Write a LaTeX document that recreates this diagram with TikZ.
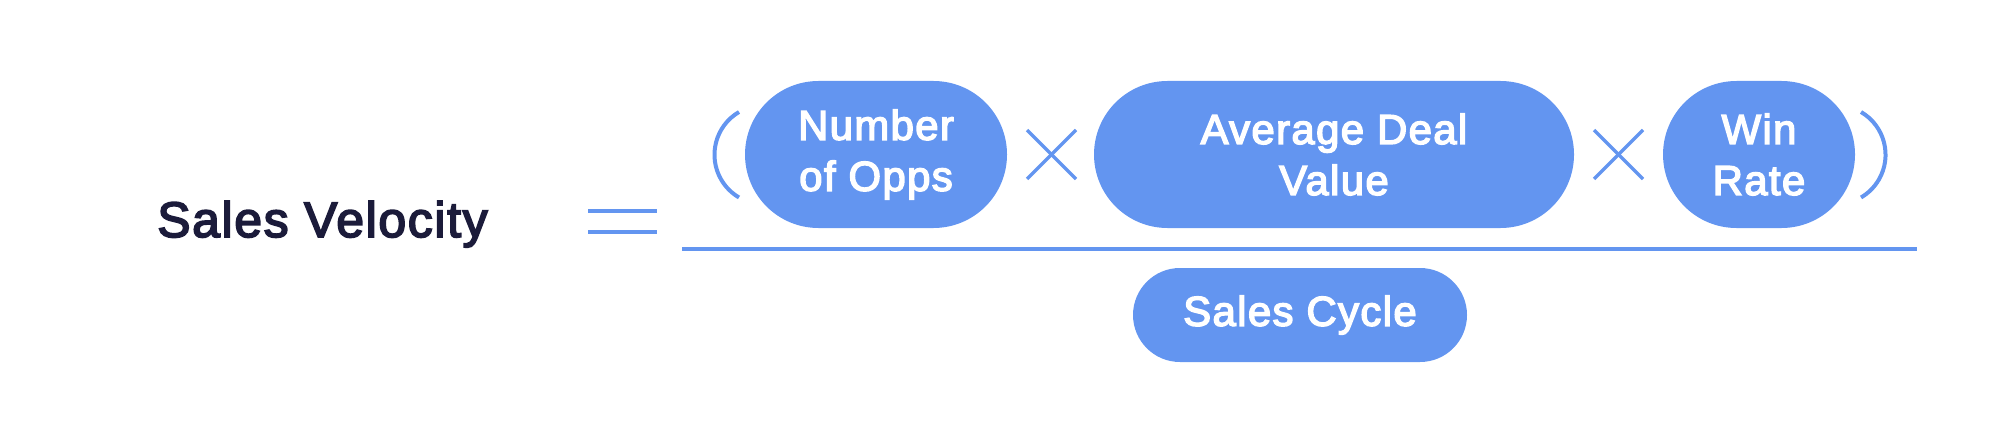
\documentclass[tikz,border=0pt]{standalone}
\usepackage{fontspec}
\setmainfont{Liberation Sans}
\newfontfamily\medfont{Liberation Sans}[FakeBold=3.5, LetterSpace=3.4]
\definecolor{pillblue}{RGB}{99,149,240}
\definecolor{navy}{RGB}{27,27,58}
\begin{document}
\begin{tikzpicture}[x=0.5pt,y=-0.5pt,
  pill/.style={fill=pillblue, text=white, rounded corners=36.75pt, minimum height=73.5pt,
    inner sep=0pt, align=center, font=\medfont\fontsize{20.9}{25.5}\selectfont},
  bluestroke/.style={draw=pillblue, line width=2pt},
  timesstroke/.style={draw=pillblue, line width=1.7pt},
  parenstroke/.style={draw=pillblue, line width=2pt}]
\useasboundingbox (0,0) rectangle (2000,444);
% left-hand side
\node[anchor=base, text=navy, inner sep=0pt, font=\medfont\fontsize{24.9}{30}\selectfont] (sv) at (322.5,237) {Sales Velocity};
% equals sign
\coordinate (eqa) at (588,210.5);
\coordinate (eqb) at (657,210.5);
\coordinate (eqc) at (588,232);
\coordinate (eqd) at (657,232);
\draw[bluestroke] (eqa) -- (eqb);
\draw[bluestroke] (eqc) -- (eqd);
% numerator pills
\node[pill, minimum width=131pt] (opps) at (876,154.5) {Number\\of Opps};
\node[pill, minimum width=240pt] (adv) at (1334,154.5) {Average Deal\\Value};
\node[pill, minimum width=96pt] (win) at (1759,154.5) {Win\\Rate};
% multiplication signs
\coordinate (m1a) at (1027,130); \coordinate (m1b) at (1076,179);
\coordinate (m1c) at (1027,179); \coordinate (m1d) at (1076,130);
\draw[timesstroke] (m1a) -- (m1b);
\draw[timesstroke] (m1c) -- (m1d);
\coordinate (m2a) at (1594,130); \coordinate (m2b) at (1643,179);
\coordinate (m2c) at (1594,179); \coordinate (m2d) at (1643,130);
\draw[timesstroke] (m2a) -- (m2b);
\draw[timesstroke] (m2c) -- (m2d);
% parentheses
\coordinate (lpa) at (739,112);
\draw[parenstroke] (lpa) arc[start angle=120.3, end angle=239.7, radius=24.75pt];
\coordinate (rpa) at (1861,112);
\draw[parenstroke] (rpa) arc[start angle=59.7, end angle=-59.7, radius=24.75pt];
% fraction bar
\coordinate (fl) at (682,249);
\coordinate (fr) at (1917,249);
\draw[bluestroke] (fl) -- (fr);
% denominator
\node[pill, minimum width=167pt, minimum height=47pt, rounded corners=23.5pt] (cycle) at (1300,315) {Sales Cycle};
\end{tikzpicture}
\end{document}
